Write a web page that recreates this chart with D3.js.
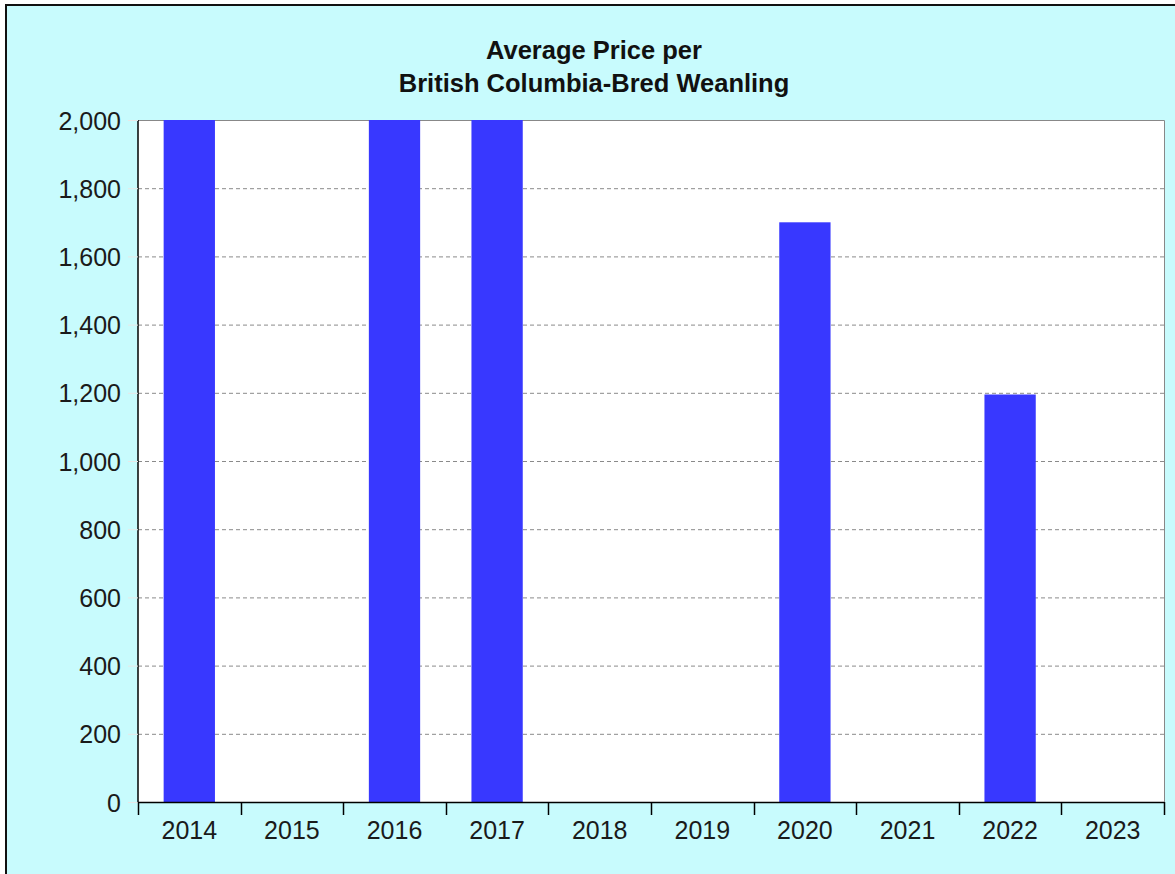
<!DOCTYPE html>
<html><head><meta charset="utf-8">
<script src="https://cdn.jsdelivr.net/npm/d3@7"></script>
<style>html,body{margin:0;padding:0;background:#fff;}svg{display:block;}</style>
</head><body>
<script>
const categories = ["2014","2015","2016","2017","2018","2019","2020","2021","2022","2023"];
const values = [2000, null, 2000, 2000, null, null, 1700, null, 1195, null];
const yTicks = [0,200,400,600,800,1000,1200,1400,1600,1800,2000];
const titleLines = ["Average Price per","British Columbia-Bred Weanling"];

const W = 1175, H = 874;
const m = {left:138, right:1164, top:120, bottom:802};
const FONT = "Liberation Sans, Arial, sans-serif";
const svg = d3.select("body").append("svg").attr("width",W).attr("height",H);

svg.append("rect").attr("x",0).attr("y",0).attr("width",W).attr("height",H).attr("fill","#ffffff");
svg.append("rect").attr("x",6).attr("y",5).attr("width",W+10).attr("height",H+10)
  .attr("fill","#c8fbfd").attr("stroke","#111").attr("stroke-width",2);

const x = d3.scaleBand().domain(categories).range([m.left,m.right]).paddingInner(0.5).paddingOuter(0.25);
const y = d3.scaleLinear().domain([0,2000]).range([m.bottom,m.top]);

svg.append("rect").attr("x",m.left).attr("y",m.top).attr("width",m.right-m.left).attr("height",m.bottom-m.top)
  .attr("fill","#ffffff");

// grid
svg.append("g").selectAll("line").data(yTicks.filter(d=>d>0 && d<2000)).join("line")
  .attr("x1",m.left).attr("x2",m.right).attr("y1",d=>y(d)+0.5).attr("y2",d=>y(d)+0.5)
  .attr("stroke","#8a8a8a").attr("stroke-dasharray","4,3").attr("stroke-width",1);

// plot border top/right
svg.append("path").attr("d",`M${m.left},${m.top+0.5}H${m.right+0.5}V${m.bottom}`)
  .attr("fill","none").attr("stroke","#888").attr("stroke-width",1);

// bars
svg.append("g").selectAll("rect").data(categories.map((c,i)=>({c,v:values[i]})).filter(d=>d.v!=null)).join("rect")
  .attr("x",d=>x(d.c)).attr("width",x.bandwidth())
  .attr("y",d=>y(d.v)).attr("height",d=>y(0)-y(d.v))
  .attr("fill","#3838ff");

// y axis
const yAxis = d3.axisLeft(y).tickValues(yTicks).tickFormat(d3.format(",")).tickSize(10).tickPadding(7);
const gy = svg.append("g").attr("transform",`translate(${m.left},0)`).call(yAxis);
gy.select(".domain").attr("stroke","#000").attr("stroke-width",1.5).attr("d",`M0,${m.top}V${m.bottom}`);
gy.selectAll(".tick line").attr("stroke","#e8e8e8");
gy.selectAll("text").attr("font-family",FONT).attr("font-size",25).attr("fill","#1a1a1a").attr("dy","0.36em");

// x axis with boundary ticks
const gx = svg.append("g");
gx.append("line").attr("x1",m.left).attr("x2",m.right).attr("y1",m.bottom+0.5).attr("y2",m.bottom+0.5)
  .attr("stroke","#000").attr("stroke-width",1.5);
const step = x.step();
const bounds = d3.range(categories.length+1).map(i=>m.left + i*step);
gx.selectAll("line.t").data(bounds).join("line").attr("class","t")
  .attr("x1",d=>Math.round(d)+0.5).attr("x2",d=>Math.round(d)+0.5).attr("y1",m.bottom).attr("y2",m.bottom+13)
  .attr("stroke","#000").attr("stroke-width",1.5);
gx.selectAll("text").data(categories).join("text")
  .attr("x",d=>x(d)+x.bandwidth()/2).attr("y",839)
  .attr("text-anchor","middle").attr("font-family",FONT).attr("font-size",25).attr("fill","#1a1a1a")
  .text(d=>d);

// title
svg.append("g").selectAll("text").data(titleLines).join("text")
  .attr("x",594).attr("y",(d,i)=>59+i*33)
  .attr("text-anchor","middle").attr("font-family",FONT)
  .attr("font-weight","bold").attr("font-size",25.5).attr("fill","#111").text(d=>d);
</script>
</body></html>
